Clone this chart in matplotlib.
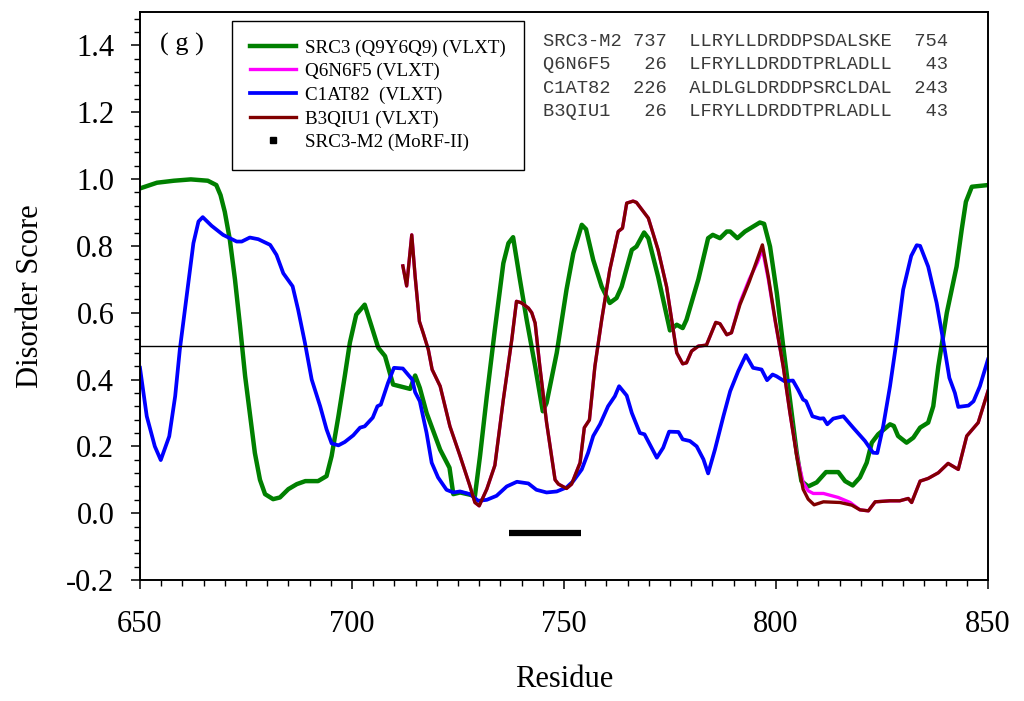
import matplotlib
matplotlib.use('Agg')
import matplotlib.pyplot as plt
from matplotlib.lines import Line2D
from matplotlib.ticker import MultipleLocator

plt.rcParams['font.family'] = ['Liberation Serif', 'DejaVu Serif']

# SRC3 (Q9Y6Q9) VLXT profile
src3_x = [650, 654, 658, 662, 666, 668, 669, 670, 671.2, 672.4, 673.6, 674.8, 676, 677.1, 678.3,
          679.5, 681.4, 683, 685, 687, 689, 692, 694, 695.2, 696.8, 698.3, 699.5, 701, 703,
          704.6, 706.2, 707.8, 709.7, 713.7, 714.9, 716, 717.6, 720.8, 723, 723.9, 725.5, 729,
          730.2, 731.8, 733.7, 735.7, 736.9, 738, 739.6, 741.2, 743.2, 745, 745.9, 748.3, 750.6,
          752.2, 754.2, 755.2, 756.9, 758.9, 760.8, 762.4, 763.6, 766, 767.1, 768.9, 769.9,
          772.2, 775, 776.6, 778, 778.9, 781.7, 784, 785.1, 786.8, 788.4, 789.2, 790.9, 792.7,
          796.2, 797.2, 798.6, 800.2, 801.7, 803.3, 804.9, 806, 807.6, 809.6, 811.8, 814.7,
          816.3, 818.1, 819.8, 821.4, 822.6, 824.1, 826.9, 827.8, 828.8, 830.8, 832.4, 834,
          835.9, 837.1, 838.3, 840.3, 842.6, 843.8, 844.8, 846.2, 850]
src3_y = [0.972, 0.989, 0.995, 0.999, 0.995, 0.982, 0.952, 0.902, 0.818, 0.70, 0.56, 0.41, 0.29, 0.18,
          0.10, 0.057, 0.042, 0.047, 0.072, 0.087, 0.096, 0.096, 0.111, 0.171, 0.29, 0.41, 0.51,
          0.594, 0.624, 0.56, 0.495, 0.47, 0.385, 0.372, 0.412, 0.375, 0.30, 0.19, 0.136, 0.057,
          0.062, 0.052, 0.171, 0.35, 0.549, 0.748, 0.808, 0.826, 0.70, 0.579, 0.44, 0.305, 0.33,
          0.48, 0.669, 0.778, 0.863, 0.85, 0.758, 0.678, 0.629, 0.644, 0.678, 0.788, 0.798, 0.84,
          0.823, 0.708, 0.547, 0.564, 0.554, 0.579, 0.70, 0.823, 0.833, 0.823, 0.843, 0.843,
          0.823, 0.843, 0.87, 0.866, 0.798, 0.659, 0.50, 0.34, 0.18, 0.096, 0.080, 0.092, 0.123,
          0.123, 0.096, 0.083, 0.107, 0.151, 0.211, 0.236, 0.266, 0.261, 0.231, 0.211, 0.226,
          0.256, 0.271, 0.32, 0.44, 0.60, 0.738, 0.848, 0.932, 0.977, 0.982]

# C1AT82 VLXT profile
c1at82_x = [650, 651.6, 653.5, 654.9, 656.9, 658.3, 659.4, 661, 662.6, 663.8, 664.8, 666.9, 669.6,
            672.8, 674, 675.9, 677.9, 680.7, 682.2, 683.8, 686, 687.3, 688.9, 690.5, 692.5, 694,
            695.2, 696.8, 698.3, 700.3, 701.9, 703, 704.9, 706, 706.8, 708.5, 709.9, 712, 714.2,
            714.9, 716, 717.6, 718.8, 720.3, 722.3, 723.9, 725.5, 727.8, 729.8, 731.8, 734.1,
            736.5, 738.9, 741.6, 743.5, 745.9, 748.3, 750.6, 752.2, 754.2, 755.7, 756.9, 758.5,
            760.4, 762, 763, 764.8, 766, 767.9, 769, 771.9, 773.4, 774.8, 777, 778, 779.7, 781.3,
            782.9, 784, 785.6, 787.6, 789.2, 791.1, 792.9, 794.6, 796.6, 797.9, 799.2, 800.1, 802,
            804, 805.2, 806.4, 807.1, 808.6, 810.4, 811.2, 812.1, 813.5, 815.9, 818.2, 821, 822.9,
            823.9, 825.3, 826.9, 828.5, 830, 831.9, 833.2, 834, 835.9, 837.9, 839.4, 840.9, 842.2,
            843, 845.4, 846.6, 848.1, 850]
c1at82_y = [0.435, 0.29, 0.20, 0.159, 0.23, 0.35, 0.49, 0.649, 0.808, 0.873, 0.886, 0.86, 0.833,
            0.813, 0.813, 0.825, 0.82, 0.803, 0.773, 0.718, 0.679, 0.609, 0.51, 0.40, 0.32, 0.251,
            0.209, 0.203, 0.213, 0.233, 0.256, 0.26, 0.286, 0.32, 0.325, 0.39, 0.435, 0.433, 0.40,
            0.362, 0.335, 0.24, 0.151, 0.107, 0.07, 0.062, 0.065, 0.057, 0.037, 0.04, 0.052, 0.08,
            0.094, 0.089, 0.07, 0.062, 0.065, 0.077, 0.096, 0.131, 0.181, 0.231, 0.266, 0.32,
            0.35, 0.38, 0.352, 0.30, 0.24, 0.236, 0.166, 0.196, 0.244, 0.243, 0.221, 0.216, 0.20,
            0.161, 0.119, 0.19, 0.29, 0.365, 0.425, 0.473, 0.435, 0.43, 0.398, 0.415, 0.41, 0.395,
            0.397, 0.37, 0.34, 0.335, 0.29, 0.283, 0.284, 0.266, 0.283, 0.29, 0.256, 0.216, 0.181,
            0.18, 0.261, 0.38, 0.52, 0.669, 0.77, 0.802, 0.80, 0.738, 0.629, 0.52, 0.405, 0.36,
            0.318, 0.322, 0.335, 0.38, 0.46]

# B3QIU1 VLXT profile (starts at residue 712)
b3qiu1_x = [712, 712.9, 714.1, 714.9, 715.9, 716.8, 718, 718.9, 720.8, 723.1, 725.5, 727.8, 729,
            730, 731.8, 733.7, 735.7, 737.7, 738.8, 739.9, 741.6, 742.4, 743.2, 744.3, 745.9,
            747.9, 748.7, 750.6, 751.8, 753.8, 754.8, 756, 757.3, 758.9, 760.8, 762.8, 763.8,
            764.8, 766.3, 767.1, 769.9, 772.2, 774.2, 775.4, 776.6, 778, 778.9, 780.1, 781.7,
            783.6, 785.8, 786.8, 788.4, 789.5, 791.5, 793.7, 795.4, 796.8, 798.2, 799.8, 801.7,
            803.3, 804.9, 806.4, 807.6, 809, 811.2, 815.1, 817.9, 819.8, 821.8, 823.4, 826.9,
            829.2, 831.2, 832, 834, 835.9, 838.3, 840.6, 843, 845, 847.7, 850]
b3qiu1_y = [0.74, 0.68, 0.833, 0.708, 0.574, 0.539, 0.49, 0.43, 0.38, 0.26, 0.171, 0.082, 0.032,
            0.022, 0.072, 0.143, 0.34, 0.52, 0.634, 0.63, 0.614, 0.60, 0.569, 0.44, 0.271, 0.10,
            0.087, 0.074, 0.087, 0.151, 0.256, 0.279, 0.44, 0.579, 0.728, 0.843, 0.853, 0.928,
            0.934, 0.93, 0.883, 0.788, 0.678, 0.579, 0.48, 0.447, 0.45, 0.485, 0.50, 0.503, 0.571,
            0.567, 0.534, 0.54, 0.624, 0.693, 0.753, 0.803, 0.708, 0.579, 0.44, 0.30, 0.171,
            0.072, 0.042, 0.025, 0.034, 0.032, 0.024, 0.01, 0.007, 0.034, 0.037, 0.037, 0.044,
            0.032, 0.096, 0.104, 0.121, 0.149, 0.131, 0.231, 0.271, 0.365]

# Q6N6F5 VLXT profile: follows B3QIU1 except near 790-818
q6n6f5_x = [712, 712.9, 714.1, 714.9, 715.9, 716.8, 718, 718.9, 720.8, 723.1, 725.5, 727.8, 729,
            730, 731.8, 733.7, 735.7, 737.7, 738.8, 739.9, 741.6, 742.4, 743.2, 744.3, 745.9,
            747.9, 748.7, 750.6, 751.8, 753.8, 754.8, 756, 757.3, 758.9, 760.8, 762.8, 763.8,
            764.8, 766.3, 767.1, 769.9, 772.2, 774.2, 775.4, 776.6, 778, 778.9, 780.1, 781.7,
            783.6, 785.8, 786.8, 788.4, 789.5, 791.5, 793.7, 795.6, 796.8, 798.2, 799.8, 801.7,
            803.3, 804.9, 806.4, 807.6, 808.8, 811.2, 814.7, 817.5, 819.8, 821.8, 823.4, 826.9,
            829.2, 831.2, 832, 834, 835.9, 838.3, 840.6, 843, 845, 847.7, 850]
q6n6f5_y = [0.74, 0.68, 0.833, 0.708, 0.574, 0.539, 0.49, 0.43, 0.38, 0.26, 0.171, 0.082, 0.032,
            0.022, 0.072, 0.143, 0.34, 0.52, 0.634, 0.63, 0.614, 0.60, 0.569, 0.44, 0.271, 0.10,
            0.087, 0.074, 0.087, 0.151, 0.256, 0.279, 0.44, 0.579, 0.728, 0.843, 0.853, 0.928,
            0.934, 0.93, 0.883, 0.788, 0.678, 0.579, 0.48, 0.447, 0.45, 0.485, 0.50, 0.503, 0.571,
            0.567, 0.534, 0.54, 0.63, 0.70, 0.75, 0.79, 0.70, 0.575, 0.44, 0.30, 0.175, 0.092,
            0.067, 0.059, 0.059, 0.047, 0.032, 0.01, 0.007, 0.034, 0.037, 0.037, 0.044, 0.032,
            0.096, 0.104, 0.121, 0.149, 0.131, 0.231, 0.271, 0.365]

# MoRF region SRC3-M2
morf_start, morf_end, morf_y = 737, 754, -0.058

seq_rows = ['SRC3-M2 737  LLRYLLDRDDPSDALSKE  754',
            'Q6N6F5   26  LFRYLLDRDDTPRLADLL   43',
            'C1AT82  226  ALDLGLDRDDPSRCLDAL  243',
            'B3QIU1   26  LFRYLLDRDDTPRLADLL   43']

fig = plt.figure(figsize=(10.24, 7.01), dpi=100)
ax = fig.add_axes([0.1367, 0.1726, 0.8281, 0.8103])

ax.plot(src3_x, src3_y, color='#008000', lw=3.2, label='SRC3 (Q9Y6Q9) (VLXT)', solid_joinstyle='round')
ax.plot(q6n6f5_x, q6n6f5_y, color='#ff00ff', lw=2.4, label='Q6N6F5 (VLXT)', solid_joinstyle='round')
ax.plot(c1at82_x, c1at82_y, color='#0000ff', lw=2.7, label='C1AT82  (VLXT)', solid_joinstyle='round')
ax.plot(b3qiu1_x, b3qiu1_y, color='#800000', lw=2.4, label='B3QIU1 (VLXT)', solid_joinstyle='round')
ax.plot([morf_start, morf_end], [morf_y, morf_y], color='black', lw=4.5, solid_capstyle='butt')
ax.axhline(0.5, color='black', lw=1.0)

ax.set_xlim(650, 850)
ax.set_ylim(-0.2, 1.5)
ax.xaxis.set_major_locator(MultipleLocator(50))
ax.xaxis.set_minor_locator(MultipleLocator(5))
ax.yaxis.set_major_locator(MultipleLocator(0.2))
ax.yaxis.set_minor_locator(MultipleLocator(0.04))
ax.set_yticks([-0.2, 0.0, 0.2, 0.4, 0.6, 0.8, 1.0, 1.2, 1.4])
ax.set_yticklabels(['-0.2', '0.0', '0.2', '0.4', '0.6', '0.8', '1.0', '1.2', '1.4'])
ax.tick_params(which='major', length=6.5, width=1.1, labelsize=22)
ax.tick_params(axis='x', which='major', pad=15)
ax.tick_params(axis='y', which='major', pad=12)
ax.tick_params(which='minor', length=4, width=1.0)
for s in ax.spines.values():
    s.set_linewidth(1.4)

ax.set_xlabel('Residue', fontsize=22, labelpad=19)
ax.set_ylabel('Disorder Score', fontsize=22, labelpad=15)

ax.text(0.024, 0.942, '( g )', transform=ax.transAxes, fontsize=19, va='center', ha='left')

for i, row in enumerate(seq_rows):
    ax.text(0.475, 0.948 - i * 0.041, row, transform=ax.transAxes, fontsize=13.5,
            family='Liberation Mono', color='#3a3a3a', va='center', ha='left')

handles, labels = ax.get_legend_handles_labels()
handles.append(Line2D([], [], color='black', marker='s', ms=4.5, ls='none'))
labels.append('SRC3-M2 (MoRF-II)')
leg = ax.legend(handles, labels, loc='upper left', bbox_to_anchor=(0.108, 0.985), borderaxespad=0,
                fontsize=13.7, frameon=True, fancybox=False, edgecolor='black', framealpha=1,
                labelspacing=0.33, handlelength=2.4, handletextpad=0.47, borderpad=0.98)
leg.get_frame().set_linewidth(1.0)

fig.savefig('out.png', dpi=100)
